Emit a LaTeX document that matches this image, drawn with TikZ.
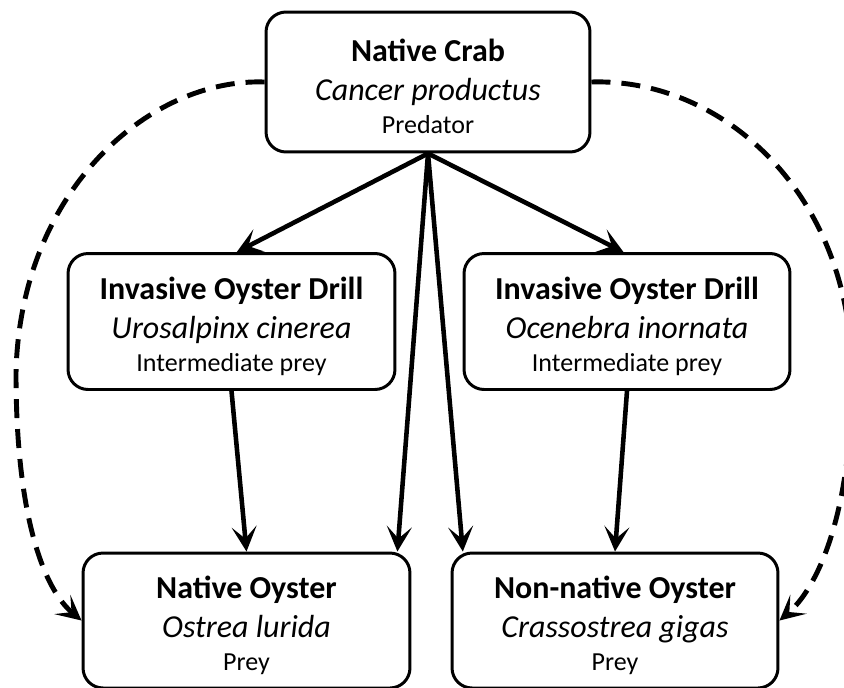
\documentclass[tikz,border=0pt]{standalone}
\usepackage{fontspec}
\setmainfont{Carlito}
\usetikzlibrary{arrows.meta}

\newcommand{\species}[3]{\rule{0pt}{18pt}\textbf{#1}\\\textit{#2}\\[-3.6pt]{\fontsize{14.8}{17}\selectfont #3}}

\begin{document}
\begin{tikzpicture}[
      x=0.02cm, y=-0.02cm,
      box/.style={rectangle, rounded corners=0.4cm, draw=black, line width=1.7pt,
                  fill=white, align=center, minimum height=2.72cm,
                  font=\fontsize{18.2}{22.2}\selectfont, inner sep=0pt},
      arr/.style={-{Stealth[length=0.5cm, width=0.5cm, inset=0.24cm]}, line width=2.6pt},
      darr/.style={arr, line width=2.8pt, dash pattern=on 0.38cm off 0.22cm}
    ]
    \useasboundingbox (0,0) rectangle (844,687);

    \node[box, minimum width=6.48cm, minimum height=2.8cm] (crab) at (428,82)
      {\species{Native Crab}{Cancer productus}{Predator}};
    \node[box, minimum width=6.54cm] (drillU) at (231.5,321.5)
      {\species{Invasive Oyster Drill}{Urosalpinx cinerea}{Intermediate prey}};
    \node[box, minimum width=6.52cm] (drillO) at (627,321.5)
      {\species{Invasive Oyster Drill}{Ocenebra inornata}{Intermediate prey}};
    \node[box, minimum width=6.54cm, minimum height=2.7cm] (native) at (246.5,620.5)
      {\species{Native Oyster}{Ostrea lurida}{Prey}};
    \node[box, minimum width=6.52cm, minimum height=2.7cm] (nonnative) at (615,620.5)
      {\species{Non-native Oyster}{Crassostrea gigas}{Prey}};

    \draw[arr] (crab.south) -- ([xshift=3pt]drillU.north);
    \draw[arr] (crab.south) -- ([xshift=-2pt]drillO.north);
    \draw[arr] (crab.south) -- ([xshift=-8pt]native.north east);
    \draw[arr] (crab.south) -- ([xshift=7pt]nonnative.north west);
    \draw[arr] (drillU.south) -- (native.north);
    \draw[arr] (drillO.south) -- (nonnative.north);

    % indirect links
    \draw[darr] (crab.west) .. controls (150,78) and (20,190) .. (16,373)
      .. controls (16,520) and (45,590) .. (native.west);
    \draw[darr] (crab.east) .. controls (720,78) and (850,190) .. (852,373)
      .. controls (852,520) and (815,590) .. (nonnative.east);
\end{tikzpicture}
\end{document}
